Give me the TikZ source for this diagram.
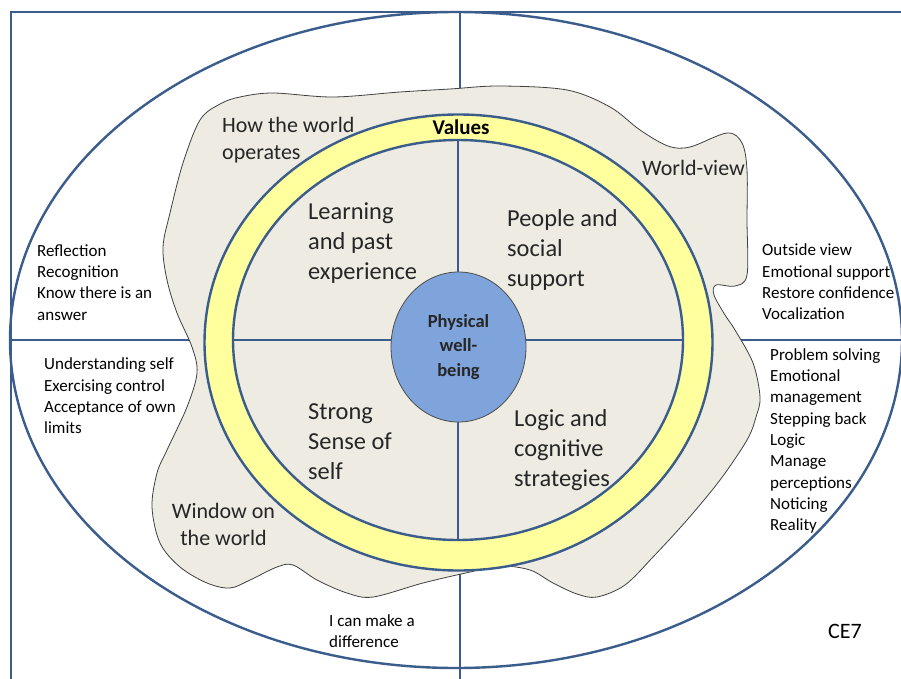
\documentclass[tikz,border=0pt]{standalone}
\usepackage{fontspec}
\setmainfont{Carlito}
\usetikzlibrary{positioning, shapes.geometric}
\definecolor{ringblue}{HTML}{3A5D8C}
\definecolor{blobgrey}{HTML}{EDEBE2}
\definecolor{valyellow}{HTML}{FFFF9E}
\definecolor{corefill}{HTML}{7FA4DB}

\begin{document}
\begin{tikzpicture}[x=1pt, y=-1pt,
    blueline/.style={draw=ringblue, line width=2.4pt},
    ring/.style={ellipse, draw=ringblue, line width=2.4pt, inner sep=0pt, outer sep=0pt},
    bigtext/.style={font=\fontsize{24.4}{30}\selectfont, align=left, anchor=west, inner sep=0pt, text=black!85},
    midtext/.style={font=\fontsize{22}{27}\selectfont, inner sep=0pt, text=black!85},
    smalltext/.style={font=\fontsize{17}{21.3}\selectfont, align=left, anchor=west, inner sep=0pt}]
    \useasboundingbox[fill=white] (0,0) rectangle (901,679);
    % Frame and outer ellipse
    \coordinate (frameBL) at (11,679);
    \coordinate (frameTL) at (11,12);
    \coordinate (frameTR) at (901,12);
    \coordinate (topmid) at (460,12);
    \coordinate (botmid) at (460,679);
    \coordinate (leftmid) at (11,340);
    \coordinate (rightmid) at (901,340);
    \node[ring, minimum width=892pt, minimum height=656pt](world) at (456,340){};
    \draw[blueline] (frameBL) -- (frameTL) -- (frameTR);
    \draw[blueline] (topmid) -- (botmid);
    \draw[blueline] (leftmid) -- (rightmid);
    % Grey world blob
    \draw[black!75, fill=blobgrey, line width=0.8pt] plot[smooth cycle, tension=0.55] coordinates {
        (240,97) (273,93) (333,97) (400,92) (450,89) (500,86) (567,90) (610,107)
        (640,130) (668,146) (690,147) (727,133) (742,143) (747,170) (747,220) (747,275)
        (735,286) (716,285) (714,295) (725,315) (735,330) (753,363) (760,397) (756,417)
        (747,440) (720,480) (687,520) (653,557) (625,585) (597,597) (577,594) (553,583)
        (530,570) (500,566) (470,572) (423,583) (373,597) (347,593) (317,580) (293,565)
        (277,567) (250,580) (230,588) (207,583) (180,567) (160,543) (152,507) (157,473)
        (167,450) (187,407) (197,373) (192,347) (177,313) (167,280) (163,247) (170,213)
        (183,163) (200,120) (220,104)};
    % Values ring and quadrants
    \node[ring, fill=valyellow, minimum width=508pt, minimum height=456pt](valring) at (458.5,342.5){};
    \node[ring, fill=blobgrey, minimum width=450pt, minimum height=400pt](quad) at (458,340){};
    \draw[blueline, line width=2pt] (quad.north) -- (quad.south);
    \draw[blueline, line width=2pt] (quad.west) -- (quad.east);
    \node[ellipse, draw=black!70, line width=0.8pt, fill=corefill, minimum width=135pt, minimum height=150pt, inner sep=0pt, align=center, font=\bfseries\fontsize{18.5}{24.5}\selectfont, text=black!85](core) at (458.5,347){Physical\\well-\\being};
    \node[font=\bfseries\fontsize{21}{25}\selectfont, inner sep=0pt](values) at (461,127){Values};
    % Quadrant labels
    \node[bigtext](learning) at (308,243){Learning\\and past\\experience};
    \node[bigtext](people) at (507,250){People and\\social\\support};
    \node[bigtext](strong) at (308,442){Strong\\Sense of\\self};
    \node[bigtext](logic) at (514,450){Logic and\\cognitive\\strategies};
    % World labels
    \node[midtext, align=left, anchor=west](howworld) at (222,140.5){How the world\\operates};
    \node[midtext, anchor=west](worldview) at (642,168){World-view};
    \node[midtext, align=center](window) at (223.5,524.5){Window on\\the world};
    % Outer notes
    \node[smalltext](reflect) at (37,282.5){Reflection\\Recognition\\Know there is an\\answer};
    \node[smalltext](understand) at (44,396){Understanding self\\Exercising control\\Acceptance of own\\limits};
    \node[smalltext](outside) at (762,282){Outside view\\Emotional support\\Restore confidence\\Vocalization};
    \node[smalltext](problem) at (770,441){Problem solving\\Emotional\\management\\Stepping back\\Logic\\Manage\\perceptions\\Noticing\\Reality};
    \node[smalltext](difference) at (329,631){I can make a\\difference};
    \node[midtext, text=black](ce) at (845,631){CE7};
\end{tikzpicture}
\end{document}
